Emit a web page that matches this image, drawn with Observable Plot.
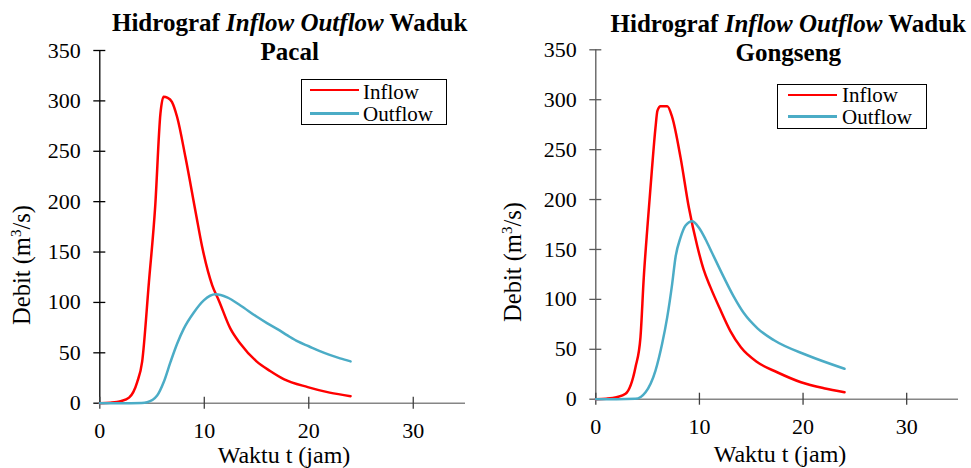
<!DOCTYPE html>
<html><head><meta charset="utf-8">
<script src="https://cdn.jsdelivr.net/npm/d3@7"></script>
<script src="https://cdn.jsdelivr.net/npm/@observablehq/plot@0.6"></script>
<style>
body{margin:0;background:#fff;}
#wrap{position:relative;width:971px;height:468px;overflow:hidden;font-family:"Liberation Serif","Times New Roman",serif;color:#000;background:#fff}
.chart{position:absolute;top:0}
.title{position:absolute;width:500px;text-align:center;font-weight:bold;font-size:25px;line-height:29px;white-space:nowrap}
.ylab{position:absolute;font-size:24.5px;line-height:24px;white-space:nowrap;transform:translate(-50%,-50%) rotate(-90deg)}
.ylab sup{font-size:15px;line-height:0;vertical-align:9px}
.xlab{position:absolute;font-size:24px;line-height:20px;white-space:nowrap;transform:translateX(-50%)}
.lbox{position:absolute;border:1.5px solid #000;box-sizing:border-box;background:#fff}
.lline{position:absolute;height:2.5px}
.ltext{position:absolute;font-size:21px;line-height:22px;white-space:nowrap;font-family:"Liberation Serif","Times New Roman",serif}
</style>
</head><body>
<div id="wrap"></div>
<script>
// ---- data ----
const xTicks = [0, 10, 20, 30];
const yTicks = [0, 50, 100, 150, 200, 250, 300, 350];
const seriesNames = ["Inflow", "Outflow"];
const seriesColors = ["#FF0000", "#4BACC6"];

const pacalInflowTime = [0,1,2,2.8,3.58,4.05,4.7,5.3,5.8,6.1,6.5,6.9,7.4,8.2,9.2,9.8,10.76,11.39,12.5,13.46,15,16.3,17.6,19.9,22,24];
const pacalInflowQ    = [0,0.5,2,5.5,21,41,120,195,287,304,303,299,284,244,188,155,117,102,74,59,41.5,32,24,16,10.5,7];
const pacalOutflowTime = [0,2,4,4.53,5.49,6.12,6.77,7.4,8.04,9.0,9.95,11.07,12.19,13.46,15,16,17,18,19,20,21,22,23,24];
const pacalOutflowQ    = [0,0,0.3,1,7.6,21,41,59,74,90,102,108,105,97,86,79.5,73.5,67,61,56.5,52,48,44.5,41.5];

const gongInflowTime = [0,1,2,2.87,3.83,4.31,4.63,5.0,5.4,5.76,5.95,6.25,6.9,7.37,8.18,8.98,9.8,10.4,11.07,12,13,14,15.6,17.5,19.8,22,24];
const gongInflowQ    = [0,0.5,2,5.4,32,62,122,175,228,272,289,293.5,293.5,282.5,242,192,153,130,112,90,68,52,37,27,17,11,7];
const gongOutflowTime = [0,2,3.83,4.8,5.76,6.4,6.89,7.37,7.69,8.18,8.66,9.3,9.94,10.6,11.2,12.36,13.3,14.3,15.6,17.2,20.4,24];
const gongOutflowQ    = [0,0,0.4,7,28.7,55.5,82,115.6,142,162,174,178.3,172,160,147,122,103,86,71,59,44,30.5];

const charts = [
  {name: "Pacal", inT: pacalInflowTime, inQ: pacalInflowQ, outT: pacalOutflowTime, outQ: pacalOutflowQ,
   left: 0, width: 485, ml: 99.3, mr: 20, mt: 50, mb: 65.3, yAxisColor: "#000",
   titleCx: 289.7, titleTop: 8, ylabX: 22, ylabY: 265, xlabX: 284, xlabTop: 445,
   legend: {x: 301, y: 79, w: 146, h: 46, lineX: 310, lineW: 49, textX: 363, rows: [90, 113.3], textTop: 80.5}},
  {name: "Gongseng", inT: gongInflowTime, inQ: gongInflowQ, outT: gongOutflowTime, outQ: gongOutflowQ,
   left: 490, width: 481, ml: 105.3, mr: 13, mt: 49.3, mb: 69.3, yAxisColor: "#595959",
   titleCx: 788.3, titleTop: 9, ylabX: 513, ylabY: 262, xlabX: 780, xlabTop: 443.6,
   legend: {x: 777, y: 84, w: 150, h: 45, lineX: 788, lineW: 49, textX: 842, rows: [95, 116.7], textTop: 83.5}}
];

const wrap = document.getElementById("wrap");

function rows(ts, qs) { return ts.map((t, i) => ({t, q: qs[i]})); }

for (const c of charts) {
  const svg = Plot.plot({
    width: c.width, height: 468,
    marginLeft: c.ml, marginRight: c.mr, marginTop: c.mt, marginBottom: c.mb,
    x: {domain: [0, 35], label: null},
    y: {domain: [0, 350], label: null},
    style: {fontFamily: "'Liberation Serif', 'Times New Roman', serif", fontSize: "22px", color: "#000", background: "transparent", overflow: "visible"},
    marks: [
      Plot.ruleY([0], {stroke: "#868686", strokeWidth: 1.6}),
      Plot.ruleX([0], {stroke: c.yAxisColor, strokeWidth: 1.3}),
      Plot.axisY({ticks: yTicks, tickSize: 12, dx: 6, fill: "none", stroke: c.yAxisColor, strokeWidth: 1.3, label: null}),
      Plot.axisY({ticks: yTicks, tickSize: 0, tickPadding: 19, fill: "#000", label: null}),
      Plot.axisX({ticks: xTicks, tickSize: 12, dy: -6, fill: "none", stroke: "#404040", strokeWidth: 1.3, label: null}),
      Plot.axisX({ticks: xTicks, tickSize: 0, tickPadding: 19, fill: "#000", label: null}),
      Plot.line(rows(c.inT, c.inQ), {x: "t", y: "q", stroke: seriesColors[0], strokeWidth: 2.5, curve: "monotone-x"}),
      Plot.line(rows(c.outT, c.outQ), {x: "t", y: "q", stroke: seriesColors[1], strokeWidth: 2.5, curve: "monotone-x"})
    ]
  });
  const holder = document.createElement("div");
  holder.className = "chart";
  holder.style.left = c.left + "px";
  holder.appendChild(svg);
  wrap.appendChild(holder);

  const title = document.createElement("div");
  title.className = "title";
  title.style.left = (c.titleCx - 250) + "px";
  title.style.top = c.titleTop + "px";
  title.innerHTML = "Hidrograf <i>Inflow Outflow</i> Waduk<br>" + c.name;
  wrap.appendChild(title);

  const yl = document.createElement("div");
  yl.className = "ylab";
  yl.style.left = c.ylabX + "px";
  yl.style.top = c.ylabY + "px";
  yl.innerHTML = "Debit (m<sup>3</sup>/s)";
  wrap.appendChild(yl);

  const xl = document.createElement("div");
  xl.className = "xlab";
  xl.style.left = c.xlabX + "px";
  xl.style.top = c.xlabTop + "px";
  xl.textContent = "Waktu t (jam)";
  wrap.appendChild(xl);

  const L = c.legend;
  const box = document.createElement("div");
  box.className = "lbox";
  Object.assign(box.style, {left: L.x + "px", top: L.y + "px", width: L.w + "px", height: L.h + "px"});
  wrap.appendChild(box);
  seriesNames.forEach((n, i) => {
    const ln = document.createElement("div");
    ln.className = "lline";
    Object.assign(ln.style, {left: L.lineX + "px", top: (L.rows[i] - 1.25) + "px", width: L.lineW + "px", background: seriesColors[i]});
    wrap.appendChild(ln);
  });
  const tx = document.createElement("div");
  tx.className = "ltext";
  Object.assign(tx.style, {left: L.textX + "px", top: L.textTop + "px"});
  tx.innerHTML = seriesNames.join("<br>");
  wrap.appendChild(tx);
}
</script>
</body></html>
